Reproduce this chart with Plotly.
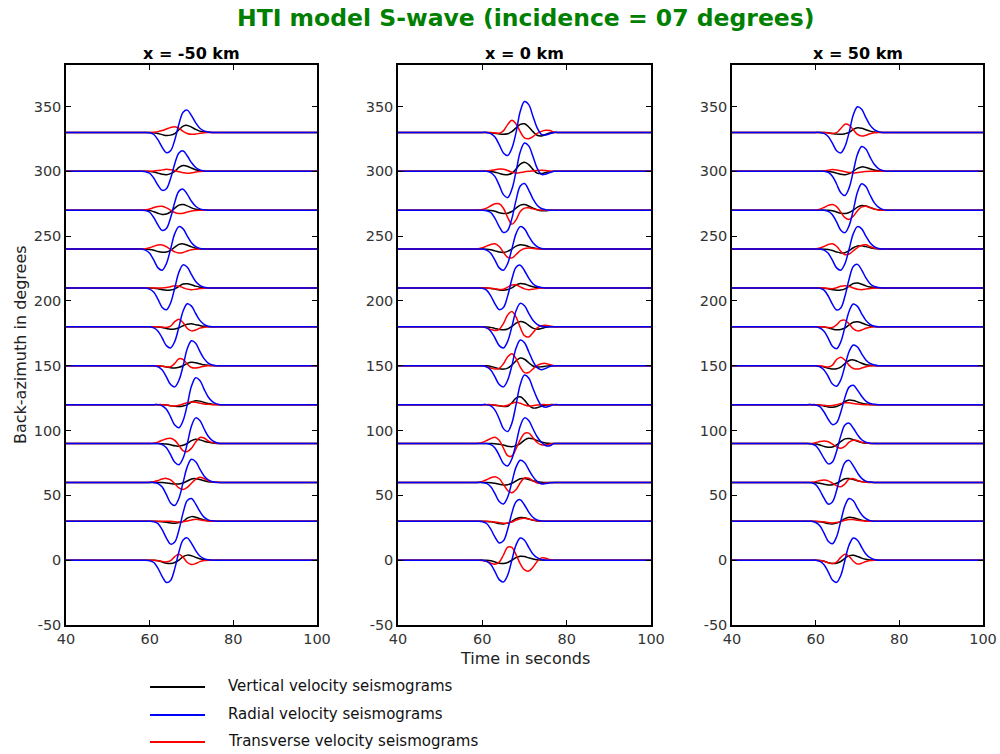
import plotly.graph_objects as go

# ---------------- data ----------------
baz = [0, 30, 60, 90, 120, 150, 180, 210, 240, 270, 300, 330]
t_wave = list(range(59, 77))          # sampled seconds (amplitudes below)
t_pre = [40, 57, 58]                  # flat (zero) part before arrival
t_post = [77, 78, 100]                # flat (zero) part after arrival
x_ticks = [40, 60, 80, 100]
y_ticks = [-50, 0, 50, 100, 150, 200, 250, 300, 350]
y_tick_labels = ["-50", "0", "50", "100", "150", "200", "250", "300", "350"]
panel_titles = ["x = -50 km", "x = 0 km", "x = 50 km"]

left_vertical = [
    [0,0,-0.1,-0.5,-1.4,-2.3,-2.6,-1.8,0,2.7,3.9,3.5,2.2,1.1,0.4,0.1,0,0],
    [0,0,0,-0.1,-0.3,-0.8,-1.3,-1.5,-1,0,2.4,3.6,3.2,2,1,0.4,0.1,0],
    [0,0,0,0,-0.1,-0.5,-0.9,-1.3,-1.2,-0.5,1.1,2.7,2.9,2.2,1.3,0.5,0.2,0.1],
    [0,0,0,0,-0.1,-0.4,-1,-1.8,-2,-1.4,0,2.2,3.2,2.8,1.8,0.9,0.4,0.1],
    [0,0,0,0,-0.1,-0.3,-0.8,-1.3,-1.5,-1,0,2,3,2.7,1.7,0.8,0.3,0.1],
    [0,0,0,-0.1,-0.4,-0.9,-1.6,-1.8,-1.2,0,1.8,2.6,2.3,1.5,0.7,0.3,0.1,0],
    [0,0,0,-0.2,-0.6,-1.3,-1.8,-1.6,-0.7,0.9,2,2.3,1.7,1,0.4,0.1,0,0],
    [0,0,-0.2,-0.6,-1.3,-1.8,-1.6,-0.7,1.3,3,3.3,2.5,1.4,0.6,0.2,0.1,0,0],
    [-0.1,-0.3,-0.9,-1.9,-2.5,-2.3,-1,1.5,3.6,4,3,1.7,0.7,0.2,0.1,0,0,0],
    [-0.1,-0.3,-1.2,-2.4,-3.3,-3,-1.3,1.6,3.9,4.3,3.3,1.8,0.8,0.3,0.1,0,0,0],
    [0,-0.1,-0.5,-1.4,-2.3,-2.6,-1.8,0,3,4.4,3.9,2.5,1.2,0.5,0.1,0,0,0],
    [0,0,-0.2,-0.9,-1.7,-2.4,-2.1,-0.9,2,4.9,5.4,4.1,2.3,1,0.3,0.1,0,0],
]
left_radial = [
    [0,-0.4,-1.8,-6.3,-12.6,-17.2,-15.6,-6.5,6.5,15.6,17.2,13,7.4,3.2,1.1,0.3,0,0],
    [0,0,-0.4,-1.8,-6.5,-13,-17.6,-16,-6.7,6.7,16,17.6,13.3,7.6,3.2,1.1,0.4,0],
    [0,0,0,-0.9,-3.6,-9.4,-15.8,-17.8,-12.2,0,12.2,17.8,16,10.3,5,2,0.5,0],
    [0,0,0,0,-0.8,-3.3,-8.6,-14.5,-16.3,-11.2,0,13.6,19.8,17.8,11.4,5.6,2.2,0.6],
    [0,0,0,0,-0.9,-3.6,-9.4,-15.8,-17.8,-12.2,0,14.3,20.8,18.7,12,5.9,2.3,0.6],
    [0,0,0,-0.8,-3.3,-8.6,-14.5,-16.3,-11.2,0,13.3,19.3,17.4,11.1,5.5,2.1,0.6,0],
    [0,0,-0.8,-3.3,-8.6,-14.5,-16.3,-11.2,0,12.2,17.8,16,10.3,5,2,0.5,0,0],
    [0,-0.9,-3.4,-8.8,-15,-16.8,-11.6,0,12.2,17.8,16,10.3,5,2,0.5,0,0,0],
    [-0.8,-3.3,-8.6,-14.5,-16.3,-11.2,0,11.9,17.3,15.6,10,4.9,1.9,0.5,0,0,0,0],
    [-0.3,-1.6,-5.8,-11.5,-15.7,-14.2,-5.9,6.1,14.7,16.2,12.2,6.9,3,1,0.3,0,0,0],
    [-0.3,-1.5,-5.4,-10.8,-14.7,-13.4,-5.6,5.9,14.2,15.7,11.8,6.7,2.9,1,0.3,0,0,0],
    [0,-0.3,-1.6,-5.8,-11.5,-15.7,-14.2,-5.9,6.5,15.6,17.2,13,7.4,3.2,1.1,0.3,0,0],
]
left_transverse = [
    [0,0,-0.1,-0.4,-1,-1.3,-0.3,2.8,4.6,2.2,-1.8,-3.4,-2.6,-1.1,-0.3,0,0,0],
    [0,0,0,0,0,0,0,-0.3,-0.5,-0.3,0.3,1,1.5,1.2,0.6,0.2,0,0],
    [0,0.1,0.5,1.5,2.7,3.1,2,-1,-4.3,-5.4,-3.8,-0.6,2.4,3.9,3,1.3,0.4,0.1],
    [0,0,0.3,1.1,2.5,3.7,4,2.4,-1.5,-5.6,-6.2,-3.6,1.2,4.7,4.2,2,0.7,0.2],
    [0,0,0,0,0,-0.3,-0.8,-1,-0.5,0.5,1.5,2,1.8,1.1,0.5,0.2,0,0],
    [0,0,0,-0.1,-0.4,-0.9,-0.8,1.8,5.4,4.8,1.2,-1.4,-1.8,-1.1,-0.4,-0.1,0,0],
    [0,0,0,0,-0.2,-0.4,0.6,4,5.9,3.2,-1.3,-3.1,-2.4,-1,-0.3,0,0,0],
    [0,0,0,0,0,0.3,1,1.7,1.4,0.2,-0.9,-1.3,-1,-0.5,-0.2,0,0,0],
    [0.3,1,2.2,3.2,3.2,1.8,-0.3,-2.2,-3,-2.6,-1.5,-0.6,-0.2,0,0,0,0,0],
    [0.3,0.9,2,2.9,3,1.8,0,-1.8,-2.6,-2.4,-1.4,-0.6,-0.2,0,0,0,0,0],
    [0,0,0.2,0.6,1.1,1.5,1.2,0.5,-0.4,-1.1,-1.5,-1.2,-0.6,-0.2,0,0,0,0],
    [0,0,0.2,0.6,1.4,2.6,3.8,4.4,3.3,0.8,-0.8,-1.5,-1.3,-0.7,-0.2,0,0,0],
]

middle_vertical = [
    [0,0,-0.1,-0.5,-1.4,-2.3,-2.6,-1.8,0,2.1,3.1,2.8,1.8,0.9,0.3,0.1,0,0],
    [0,0,-0.1,-0.4,-1,-1.8,-2,-1.4,0,2,3,2.7,1.7,0.8,0.3,0.1,0,0],
    [0,0,0,-0.2,-0.7,-1.4,-2,-1.8,-0.7,1.1,2.8,3,2.3,1.3,0.6,0.2,0,0],
    [0,0,0,0,-0.1,-0.5,-1.2,-2.1,-2.4,-1.6,0,2.7,4,3.6,2.3,1.1,0.4,0.1],
    [0,0,0,-0.1,-0.4,-0.9,-1.4,-1.2,1.5,5,6,3.5,-0.5,-2.6,-2.4,-1.2,-0.4,0],
    [0,0,-0.1,-0.5,-1.4,-2.3,-2.6,-1.8,0.5,3.8,5.9,5,2.3,-0.2,-1,-0.8,-0.3,0],
    [0,0,-0.1,-0.4,-1.2,-2,-2.3,-1.6,0.3,2.8,4.1,3.4,1.2,-1,-1.8,-1.2,-0.4,0],
    [0,0,-0.1,-0.4,-0.9,-1.6,-1.8,-1.2,0,2.3,3.4,3,1.9,1,0.4,0.1,0,0],
    [0,0,-0.1,-0.5,-1.4,-2.3,-2.6,-1.8,0,2.3,3.4,3,1.9,1,0.4,0.1,0,0],
    [0,0,-0.1,-0.3,-0.9,-1.9,-2.5,-2.3,-1,1.6,3.9,4.3,3.2,1.6,0.4,-0.4,-0.4,-0.1],
    [0,0,0,-0.2,-0.7,-1.6,-2.4,-2.6,-1.5,1.8,5.6,7,5.2,1.5,-1.4,-1.7,-0.9,-0.3],
    [0,0,0,-0.2,-0.6,-1.2,-1.5,-1.1,0.6,3.5,6.2,6.6,4.2,0.6,-2.2,-2.7,-1.6,-0.5],
]
middle_radial = [
    [0,0,-0.9,-3.4,-8.8,-15,-16.8,-11.6,0,11.8,17.1,15.4,9.9,4.8,1.9,0.5,0,0],
    [0,-0.3,-1.7,-6.1,-12.2,-16.7,-15.1,-6.3,6.3,15.1,16.7,12.6,7.1,3.1,1,0.3,0,0],
    [0,0,-0.8,-3.4,-8.7,-14.8,-16.6,-11.4,0,11.8,17.1,15.4,9.9,4.5,0.8,-1.1,-0.9,-0.3],
    [0,0,0,-0.9,-3.5,-9.1,-15.4,-17.3,-11.9,0,13.6,19.8,17.8,11.4,5.2,1,-1.5,-1.8],
    [0,0,0,-1,-4.2,-10.9,-18.5,-20.8,-14.3,0,15.6,22.8,20.5,12.6,4.8,-0.8,-2,-1],
    [0,0,-0.8,-3.3,-8.6,-14.5,-16.3,-11.2,0,13.6,19.8,17.8,10.8,3.5,-1.5,-3,-2,-0.7],
    [0,0,-0.8,-3.3,-8.6,-14.5,-16.3,-11.2,0,12.4,18.1,16.3,10.4,5.1,2,0.5,0,0],
    [0,-0.3,-1.7,-6.1,-12.2,-16.7,-15.1,-6.3,6.7,16,17.6,13.3,7.6,3.2,1.1,0.4,0,0],
    [0,0,-0.8,-3.3,-8.6,-14.5,-16.3,-11.2,0,11.9,17.3,15.6,10,4.9,1.9,0.5,0,0],
    [0,0,-0.4,-1.8,-6.3,-12.6,-17.2,-15.6,-6.5,7.8,18.7,20.6,15.5,8.8,3.8,1.3,0.4,0],
    [0,0,0,-1,-4.1,-10.7,-18,-20.3,-13.9,0,15,21.8,19.6,11.5,2.5,-2.4,-2.2,-1],
    [0,0,0,-0.9,-3.6,-9.4,-15.8,-17.8,-12.2,0,16.3,23.8,21.4,12.5,3.5,-1.5,-2,-1],
]
middle_transverse = [
    [0,-0.2,-0.9,-2.3,-3.1,-1.5,4,10,9.8,4.2,-2.8,-7.5,-8.4,-5.5,-1,1.8,1.5,0.5],
    [0,0,0,-0.2,-0.5,-1.1,-1.5,-1.3,-0.6,0.9,2,2.3,1.7,1,0.4,0.1,0,0],
    [0.2,0.8,2,3.6,4.4,2.8,-1.5,-6.2,-8,-5.5,-0.3,3.4,3.2,1.2,-0.5,-0.8,-0.4,-0.1],
    [0.2,0.9,2.2,3.9,4.8,2.5,-3.5,-9.3,-9.6,-4,3,7.8,8,4.5,0.8,-1,-1.1,-0.4],
    [0,0,0,0,-0.3,-0.8,-1.2,-0.5,1,1.8,1,-0.3,-1,-0.8,-0.3,0,0,0],
    [0,-0.2,-0.7,-1.8,-2.6,-2,1.5,6.8,9.3,5.5,-1,-5.3,-5.2,-2.5,0.3,1.6,1.8,0.9],
    [0,-0.2,-0.8,-2,-2.8,-2,2.5,9.2,11.9,7.5,-0.5,-6.8,-7.8,-4.5,-0.8,0.9,1.3,0.6],
    [0,0,0,-0.2,-0.6,-1.2,-1,0.6,2.3,2.4,0.8,-0.7,-1.3,-1,-0.4,-0.1,0,0],
    [0.3,1,2.3,3.6,4.1,2,-2.5,-6.3,-6.8,-4.2,-1.2,0.4,0.8,0.5,0.2,0,0,0],
    [0.1,0.5,1.6,3.4,4.9,5,1.5,-5.5,-10.8,-7.5,-1,1.6,1.8,1,0.4,0.1,0,0],
    [0,0,0.2,0.6,1.2,1.7,1.6,0.6,-0.7,-1.3,-1,-0.4,0,0.3,0.6,0.8,0.6,0.2],
    [0,0,0,-0.1,-0.4,-0.6,1.2,6,9.3,6.5,0.5,-4.2,-4.9,-3.2,-0.8,0.8,1.6,1.5],
]

right_vertical = [
    [0,-0.1,-0.3,-0.9,-1.9,-2.5,-2.3,-1,1.4,3.5,3.8,2.9,1.6,0.7,0.2,0.1,0,0],
    [0,-0.1,-0.4,-1,-1.8,-2,-1.4,0,2.1,3.1,2.8,1.8,0.9,0.3,0.1,0,0,0],
    [-0.1,-0.2,-0.7,-1.4,-2,-1.8,-0.7,1.1,2.8,3,2.3,1.3,0.6,0.2,0.1,0,0,0],
    [-0.1,-0.3,-1.1,-2.2,-2.9,-2.7,-1.1,1.5,3.6,3.9,3,1.7,0.7,0.2,0.1,0,0,0],
    [0,-0.1,-0.4,-1,-1.8,-2,-1.4,0,2.4,3.6,3.2,2.1,1,0.4,0.1,0,0,0],
    [0,-0.1,-0.3,-0.9,-1.9,-2.5,-2.3,-1,1.7,4.1,4.5,3.4,1.9,0.8,0.3,0.1,0,0],
    [0,0,0,-0.2,-0.8,-1.7,-2.3,-2,-0.9,1.5,3.6,4,3,1.7,0.7,0.2,0.1,0],
    [0,0,0,-0.2,-0.6,-1.3,-1.8,-1.6,-0.7,1.4,3.5,3.8,2.9,1.6,0.7,0.2,0.1,0],
    [0,0,0,-0.1,-0.3,-1.1,-2.2,-3,-2.8,-1.1,1,2.3,2.5,1.9,1.1,0.5,0.2,0.1],
    [0,0,0,0,-0.1,-0.5,-1.4,-2.3,-2.6,-1.8,0,2.4,3.6,3.2,2.1,1,0.4,0.1],
    [0,0,0,0,-0.1,-0.5,-1.4,-2.3,-2.6,-1.8,0,2.3,3.4,3,1.9,1,0.4,0.1],
    [0,0,0,-0.1,-0.3,-0.8,-1.3,-1.5,-1,0,2.4,3.6,3.2,2.1,1,0.4,0.1,0],
]
right_radial = [
    [0,0,-0.9,-3.5,-9,-15.3,-17.1,-11.8,0,11.8,17.1,15.4,9.9,4.8,1.9,0.5,0,0],
    [0,-0.9,-3.5,-9.1,-15.4,-17.3,-11.9,0,12.1,17.6,15.8,10.1,5,2,0.5,0,0,0],
    [-0.3,-1.7,-6.1,-12.2,-16.7,-15.1,-6.3,6.4,15.4,17,12.8,7.3,3.1,1,0.3,0,0,0],
    [-0.3,-1.6,-5.8,-11.5,-15.7,-14.2,-5.9,5.9,14.2,15.7,11.8,6.7,2.9,1,0.3,0,0,0],
    [0,-0.3,-1.6,-5.7,-11.3,-15.4,-14,-5.8,5.6,13.5,14.9,11.2,6.4,2.7,0.9,0.3,0,0],
    [0,0,-0.8,-3.2,-8.3,-14.1,-15.8,-10.9,0,11,16,14.4,9.2,4.5,1.8,0.5,0,0],
    [0,0,-0.9,-3.4,-8.8,-15,-16.8,-11.6,0,12.1,17.6,15.8,10.1,5,2,0.5,0,0],
    [0,0,-0.3,-1.7,-6.2,-12.5,-17,-15.4,-6.4,6.9,16.6,18.2,13.8,7.8,3.3,1.1,0.4,0],
    [0,0,0,-0.8,-3.3,-8.6,-14.5,-16.3,-11.2,0,11.9,17.3,15.6,10,4.9,1.9,0.5,0],
    [0,0,0,0,-0.9,-3.5,-9.1,-15.4,-17.3,-11.9,0,14,20.4,18.3,11.7,5.8,2.3,0.6],
    [0,0,0,0,-0.9,-3.8,-9.8,-16.5,-18.6,-12.8,0,13.1,19.1,17.2,11,5.4,2.1,0.6],
    [0,0,0,-0.8,-3.2,-8.3,-14.1,-15.8,-10.9,0,13.6,19.8,17.8,11.4,5.6,2.2,0.6,0],
]
right_transverse = [
    [0,0,-0.2,-0.8,-1.9,-2.6,-1.4,2.2,4.6,3,-0.8,-3,-2.4,-1,-0.3,0,0,0],
    [0,0,-0.1,-0.4,-0.9,-1.3,-1,-0.2,0.8,1.4,1.3,0.8,0.4,0.1,0,0,0,0],
    [0.1,0.6,1.4,1.8,1.2,-0.6,-2.6,-3.4,-1.2,2.5,2.9,1.5,0.5,0.1,0,0,0,0],
    [0.1,0.6,1.5,2,1.4,-0.4,-2.6,-3.7,-2.2,1,2.6,2.2,1,0.3,0.1,0,0,0],
    [0,0,-0.2,-0.5,-0.8,-0.6,0,0.8,1.4,1.4,0.9,0.4,0.1,0,0,0,0,0],
    [0,0,-0.1,-0.5,-1,0.5,4.8,6.6,4.3,0.3,-2.1,-2.6,-1.8,-0.8,-0.2,0,0,0],
    [0,0,0,-0.2,-0.5,-0.5,1.5,4.8,5.2,2.2,-1.5,-3.1,-2.5,-1.1,-0.3,0,0,0],
    [0,0,0,-0.1,-0.4,-0.6,0.2,1.3,1.8,1.2,0,-1,-1.3,-0.9,-0.4,-0.1,0,0],
    [0,0.2,0.8,2,3.5,4.1,2.2,-1.8,-4.3,-3.8,-1.3,1.2,3,3.3,2,0.8,0.2,0],
    [0,0.2,0.8,2.1,3.7,4.4,2.8,-1.5,-5.8,-7.1,-4.6,-0.5,2.5,3.1,2,0.8,0.2,0],
    [0,0,0.1,0.4,0.9,1.3,1,0.4,-0.3,-0.9,-1.3,-1,-0.5,-0.2,0,0,0,0],
    [0,0,0,-0.1,-0.4,-0.8,-0.2,3,6.3,5.6,2,-1.6,-2.8,-2.2,-1,-0.3,0,0],
]

panels = [
    (left_vertical, left_radial, left_transverse),
    (middle_vertical, middle_radial, middle_transverse),
    (right_vertical, right_radial, right_transverse),
]

# ---------------- figure ----------------
W, H = 1000, 754
def px(x):
    return x / W
def py(y):
    return 1 - y / H

x_domains = [(66, 317), (398, 651), (732, 983)]
y_domain = [py(625), py(65)]

def build(series):
    xs, ys = [], []
    for b, vals in zip(baz, series):
        assert len(vals) == len(t_wave)
        xs += t_pre + t_wave + t_post + [None]
        ys += [b] * len(t_pre) + [b + v for v in vals] + [b] * len(t_post) + [None]
    return xs, ys

fig = go.Figure()
colors = {"vertical": "#000000", "radial": "#0000ff", "transverse": "#ff0000"}

for i, (vert, rad, trans) in enumerate(panels):
    xa = "x" if i == 0 else f"x{i+1}"
    ya = "y" if i == 0 else f"y{i+1}"
    for name, series in (("vertical", vert), ("transverse", trans), ("radial", rad)):
        xs, ys = build(series)
        fig.add_trace(go.Scatter(
            x=xs, y=ys, mode="lines", xaxis=xa, yaxis=ya,
            line=dict(color=colors[name], width=1.5, shape="spline", smoothing=1.0),
            showlegend=False, hoverinfo="skip"))

tickfont = dict(family="DejaVu Sans", size=14.5, color="#333333")
axis_common = dict(showline=True, linecolor="black", linewidth=1.5, mirror="ticks",
                   ticks="inside", ticklen=5, tickwidth=1, tickcolor="black",
                   showgrid=False, zeroline=False, tickfont=tickfont, automargin=False)

layout = dict(width=W, height=H, margin=dict(l=0, r=0, t=0, b=0, autoexpand=False),
              paper_bgcolor="white", plot_bgcolor="white", showlegend=False)
for i, (x0, x1) in enumerate(x_domains):
    sx = "" if i == 0 else str(i + 1)
    layout[f"xaxis{sx}"] = dict(domain=[px(x0), px(x1)], range=[40, 100],
                                tickvals=x_ticks, ticktext=[str(v) for v in x_ticks],
                                anchor=f"y{sx}", **axis_common)
    layout[f"yaxis{sx}"] = dict(domain=y_domain, range=[-50, 382],
                                tickvals=y_ticks, ticktext=y_tick_labels,
                                anchor=f"x{sx}", **axis_common)
fig.update_layout(**layout)

ann = []
ann.append(dict(text="<b>HTI model S-wave (incidence = 07 degrees)</b>", x=0.526, y=py(18),
                xref="paper", yref="paper", showarrow=False, xanchor="center", yanchor="middle",
                font=dict(family="DejaVu Sans", size=23.5, color="#008000")))
for (x0, x1), ttl in zip(x_domains, panel_titles):
    ann.append(dict(text=f"<b>{ttl}</b>", x=px((x0 + x1) / 2), y=py(53), xref="paper", yref="paper",
                    showarrow=False, xanchor="center", yanchor="middle",
                    font=dict(family="DejaVu Sans", size=16, color="black")))
ann.append(dict(text="Back-azimuth in degrees", x=px(20), y=py(345), xref="paper", yref="paper",
                showarrow=False, textangle=-90, xanchor="center", yanchor="middle",
                font=dict(family="DejaVu Sans", size=16, color="#222222")))
ann.append(dict(text="Time in seconds", x=px(525), y=py(658), xref="paper", yref="paper",
                showarrow=False, xanchor="center", yanchor="middle",
                font=dict(family="DejaVu Sans", size=16, color="#222222")))

legend_items = [("Vertical velocity seismograms", colors["vertical"], 687),
                ("Radial velocity seismograms", colors["radial"], 715),
                ("Transverse velocity seismograms", colors["transverse"], 742)]
shapes = []
for label, col, yy in legend_items:
    shapes.append(dict(type="line", xref="paper", yref="paper", x0=px(150), x1=px(205),
                       y0=py(yy), y1=py(yy), line=dict(color=col, width=1.8)))
    ann.append(dict(text=label, x=px(226), y=py(yy - 1), xref="paper", yref="paper",
                    showarrow=False, xanchor="left", yanchor="middle",
                    font=dict(family="DejaVu Sans", size=15, color="#111111")))

fig.update_layout(annotations=ann, shapes=shapes)
fig.write_html("out.html")
